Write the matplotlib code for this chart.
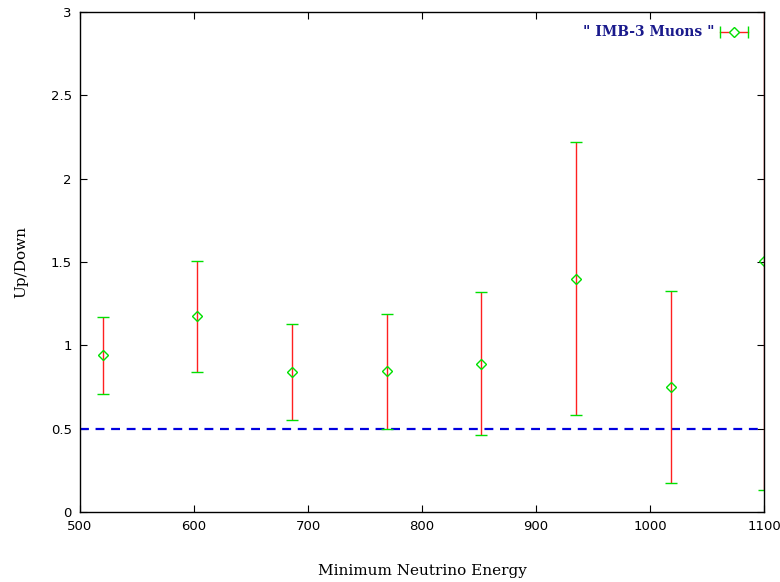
import numpy as np
import matplotlib
matplotlib.use("Agg")
import matplotlib.pyplot as plt

# ── data ──────────────────────────────────────────────────────────────────
energy = [520, 603, 686, 769, 852, 935, 1018, 1100]
ratio  = [0.94, 1.175, 0.84, 0.845, 0.89, 1.40, 0.75, 1.505]
low    = [0.71, 0.84, 0.555, 0.50, 0.46, 0.58, 0.175, 0.13]
high   = [1.17, 1.505, 1.13, 1.19, 1.32, 2.22, 1.325, 3.20]
expected = 0.5
label = '" IMB-3 Muons "'

RED   = "#FF2020"
GREEN = "#00E000"
BLUE  = "#0000E0"
NAVY  = "#1A1A8C"

fig = plt.figure(figsize=(7.8, 5.82), dpi=100)
ax = fig.add_axes([80/780, 70/582, 684/780, 500/582])

y = np.array(ratio)
yerr = [y - np.array(low), np.array(high) - y]
line, caps, bars = ax.errorbar(energy, ratio, yerr=yerr, fmt="D", mfc="none",
                               mec=GREEN, mew=1.0, ms=5, ecolor=RED, elinewidth=1.0,
                               capsize=4.5, capthick=1.0, zorder=3)
for c in caps:
    c.set_color(GREEN)
    c.set_markeredgecolor(GREEN)

ax.axhline(expected, color=BLUE, linestyle=(0, (4, 3)), linewidth=1.6, zorder=2)

ax.set_xlim(500, 1100)
ax.set_ylim(0, 3)
ax.set_xticks(np.arange(500, 1101, 100))
ax.set_yticks([0, 0.5, 1, 1.5, 2, 2.5, 3])
ax.set_yticklabels(["0", "0.5", "1", "1.5", "2", "2.5", "3"])
ax.tick_params(direction="in", top=True, right=True, length=5, width=0.8,
               labelsize=9.5, pad=6)
for s in ax.spines.values():
    s.set_linewidth(1.0)
    s.set_zorder(5)

ax.set_xlabel("Minimum Neutrino Energy", family="serif", fontsize=11, labelpad=22)
ax.set_ylabel("Up/Down", family="serif", fontsize=11, labelpad=16)

# gnuplot-style key: label on the left, horizontal errorbar sample on the right
ky = 0.96
ax.text(0.928, ky, label, transform=ax.transAxes, ha="right", va="center",
        family="serif", weight="bold", fontsize=10, color=NAVY)
ax.plot([0.936, 0.977], [ky, ky], color=RED, lw=1.0, transform=ax.transAxes,
        clip_on=False)
ax.plot([0.936, 0.977], [ky, ky], ls="none", marker="|", ms=9, mew=1.0,
        color=GREEN, transform=ax.transAxes, clip_on=False)
ax.plot([0.9565], [ky], ls="none", marker="D", ms=5, mfc="white", mec=GREEN,
        mew=1.0, transform=ax.transAxes, clip_on=False)

fig.savefig("out.png", dpi=100, facecolor="white")
